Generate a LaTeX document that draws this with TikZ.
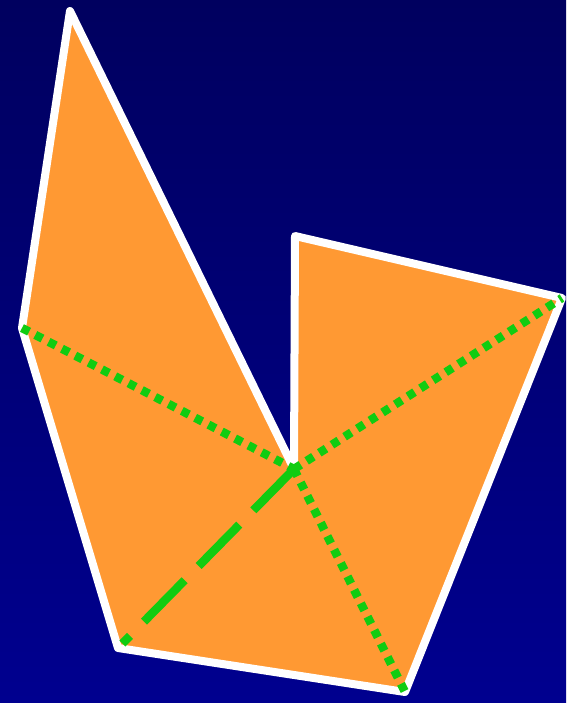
\documentclass[tikz,border=0pt]{standalone}
\usepackage{tikz}
\usetikzlibrary{calc}
\definecolor{navytop}{RGB}{0,0,95}
\definecolor{navybot}{RGB}{0,0,143}
\definecolor{myorange}{RGB}{255,153,51}
\definecolor{mygreen}{RGB}{17,204,17}

\begin{document}
\begin{tikzpicture}[x=1pt,y=-1pt,
    rim/.style={draw=white,line width=8pt,line join=round,fill=myorange},
    dotline/.style={draw=mygreen,line width=8.5pt,dash pattern=on 8pt off 7pt},
    dashline/.style={draw=mygreen,line width=8.5pt,dash pattern=on 58pt off 20pt}]
      \shade[top color=navytop,bottom color=navybot] (0,0) rectangle (566,703);
      \useasboundingbox (0,0) rectangle (566,703);
      \coordinate (tip) at (70,11);
      \coordinate (notch) at (294,469);
      \coordinate (top) at (295,236);
      \coordinate (right) at (562,298);
      \coordinate (bot) at (405,692);
      \coordinate (low) at (118,648);
      \coordinate (left) at (22,328);
      \path[rim] (tip) -- (notch) -- (top) -- (right) -- (bot) -- (low) -- (left) -- cycle;
      \draw[dotline] (left) -- (notch);
      \draw[dotline] (notch) -- (right);
      \draw[dotline] (notch) -- (bot);
      \draw[dashline] (notch) -- ($(notch)!0.975!(low)$);
    \end{tikzpicture}
\end{document}
